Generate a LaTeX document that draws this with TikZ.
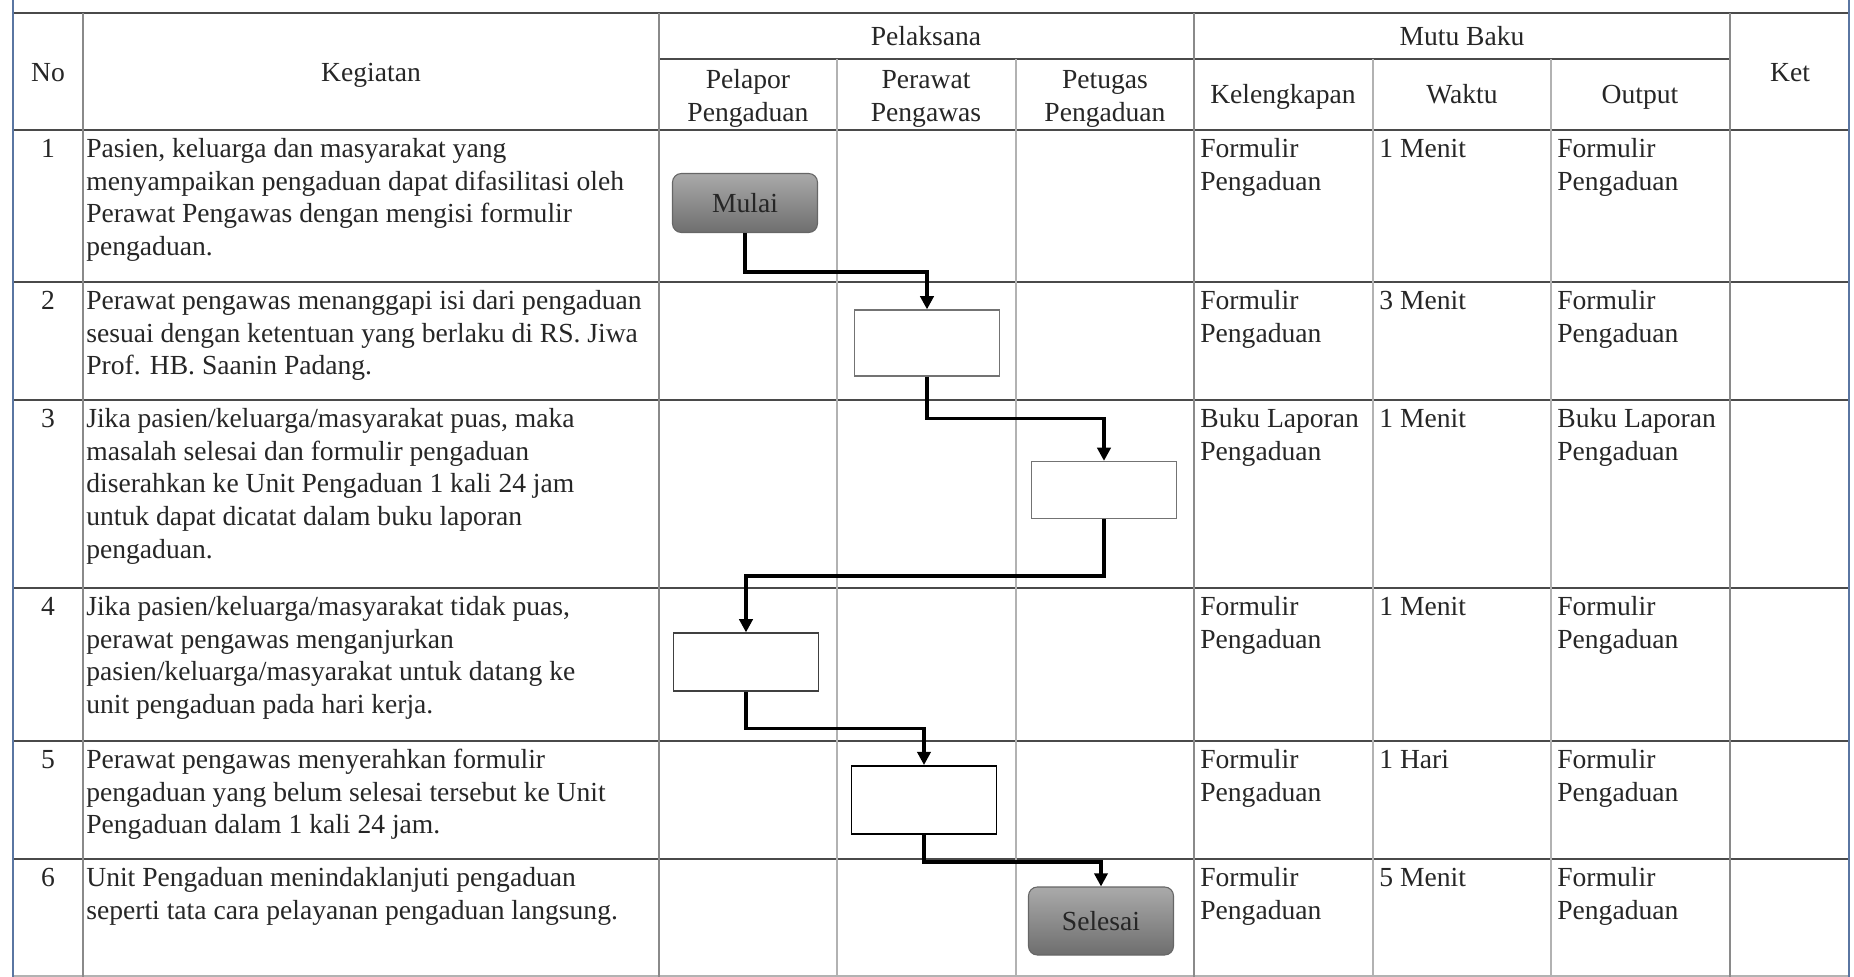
\documentclass[tikz,border=0pt]{standalone}
\usepackage{fontspec}
\setmainfont{Liberation Serif}
\usetikzlibrary{arrows.meta}
\definecolor{linegray}{HTML}{4A4A4A}
\definecolor{colgray}{HTML}{8A8A8A}
\definecolor{lightcol}{HTML}{B2B2B2}
\definecolor{frameblue}{HTML}{5A76A2}
\definecolor{textgray}{HTML}{262626}
\definecolor{termtop}{HTML}{AAAAAA}
\definecolor{termbot}{HTML}{6E6E6E}
\newcommand{\tabfont}{\fontsize{15.7}{18.6}\selectfont}
\tikzset{
    cell/.style = {anchor=north west, yshift=13.02pt, align=left, inner sep=0pt, text=textgray, font=\tabfont, execute at begin node=\strut},
    head/.style = {anchor=north, yshift=13.02pt, align=center, inner sep=0pt, text=textgray, font=\tabfont, execute at begin node=\strut},
    procbox/.style = {draw=black!75, line width=0.7pt, fill=white, minimum width=2.9cm, inner sep=0pt},
    termbox/.style = {draw=black!60, line width=0.6pt, rounded corners=5pt, top color=termtop, bottom color=termbot, minimum width=2.9cm, inner sep=0pt, text=textgray, font=\tabfont},
    flow/.style = {line width=1.9pt, -{Triangle[length=7.5pt,width=7.5pt]}}
}
\begin{document}
\begin{tikzpicture}[x=0.02cm, y=-0.02cm]
    \useasboundingbox (0,0) rectangle (1854,977);
    % Draw table rules
    \draw [linegray, line width=0.8pt] (13,13) -- (1849,13);
    \draw [linegray, line width=0.8pt] (659,59) -- (1730,59);
    \draw [linegray, line width=0.8pt] (13,130) -- (1849,130);
    \draw [linegray, line width=0.8pt] (13,282) -- (1849,282);
    \draw [linegray, line width=0.8pt] (13,400) -- (1849,400);
    \draw [linegray, line width=0.8pt] (13,588) -- (1849,588);
    \draw [linegray, line width=0.8pt] (13,741) -- (1849,741);
    \draw [linegray, line width=0.8pt] (13,859) -- (1849,859);
    \draw [lightcol, line width=0.6pt] (13,976) -- (1849,976);

    \draw [colgray, line width=0.7pt] (83,13) -- (83,977);
    \draw [colgray, line width=0.7pt] (659,13) -- (659,977);
    \draw [colgray, line width=0.7pt] (1194,13) -- (1194,977);
    \draw [colgray, line width=0.7pt] (1730,13) -- (1730,977);
    \draw [lightcol, line width=0.7pt] (837,59) -- (837,977);
    \draw [lightcol, line width=0.7pt] (1016,59) -- (1016,977);
    \draw [lightcol, line width=0.7pt] (1373,59) -- (1373,977);
    \draw [lightcol, line width=0.7pt] (1551,59) -- (1551,977);

    % Window frame
    \draw [frameblue, line width=1.6pt] (13,0) -- (13,977);
    \draw [frameblue, line width=1.6pt] (1849,0) -- (1849,977);

    % Header
    \node [head] (hno) at (48,81) {No};
    \node [head] (hkeg) at (371,81) {Kegiatan};
    \node [head] (hpel) at (926,45) {Pelaksana};
    \node [head] (hmutu) at (1462,45) {Mutu Baku};
    \node [head] (hket) at (1790,81) {Ket};
    \node [head] (hpelapor) at (748,88) {\strut Pelapor\\Pengaduan};
    \node [head] (hperawat) at (926,88) {\strut Perawat\\Pengawas};
    \node [head] (hpetugas) at (1105,88) {\strut Petugas\\Pengaduan};
    \node [head] (hlengkap) at (1283,103) {Kelengkapan};
    \node [head] (hwaktu) at (1462,103) {Waktu};
    \node [head] (houtput) at (1640,103) {Output};

    % Kegiatan
    \node [head] (no1) at (48,157) {1};
    \node [cell] (keg1) at (86,157) {\strut Pasien, keluarga dan masyarakat yang\\menyampaikan pengaduan dapat difasilitasi oleh\\Perawat Pengawas dengan mengisi formulir\\pengaduan.};
    \node [head] (no2) at (48,309) {2};
    \node [cell] (keg2) at (86,309) {\strut Perawat pengawas menanggapi isi dari pengaduan\\sesuai dengan ketentuan yang berlaku di RS. Jiwa\\Prof. HB. Saanin Padang.};
    \node [head] (no3) at (48,427) {3};
    \node [cell] (keg3) at (86,427) {\strut Jika pasien/keluarga/masyarakat puas, maka\\masalah selesai dan formulir pengaduan\\diserahkan ke Unit Pengaduan 1 kali 24 jam\\untuk dapat dicatat dalam buku laporan\\pengaduan.};
    \node [head] (no4) at (48,615) {4};
    \node [cell] (keg4) at (86,615) {\strut Jika pasien/keluarga/masyarakat tidak puas,\\perawat pengawas menganjurkan\\pasien/keluarga/masyarakat untuk datang ke\\unit pengaduan pada hari kerja.};
    \node [head] (no5) at (48,768) {5};
    \node [cell] (keg5) at (86,768) {\strut Perawat pengawas menyerahkan formulir\\pengaduan yang belum selesai tersebut ke Unit\\Pengaduan dalam 1 kali 24 jam.};
    \node [head] (no6) at (48,886) {6};
    \node [cell] (keg6) at (86,886) {\strut Unit Pengaduan menindaklanjuti pengaduan\\seperti tata cara pelayanan pengaduan langsung.};

    % Mutu baku
    \node [cell] (leng1) at (1200,157) {\strut Formulir\\Pengaduan};
    \node [cell] (wkt1) at (1379,157) {1 Menit};
    \node [cell] (out1) at (1557,157) {\strut Formulir\\Pengaduan};
    \node [cell] (leng2) at (1200,309) {\strut Formulir\\Pengaduan};
    \node [cell] (wkt2) at (1379,309) {3 Menit};
    \node [cell] (out2) at (1557,309) {\strut Formulir\\Pengaduan};
    \node [cell] (leng3) at (1200,427) {\strut Buku Laporan\\Pengaduan};
    \node [cell] (wkt3) at (1379,427) {1 Menit};
    \node [cell] (out3) at (1557,427) {\strut Buku Laporan\\Pengaduan};
    \node [cell] (leng4) at (1200,615) {\strut Formulir\\Pengaduan};
    \node [cell] (wkt4) at (1379,615) {1 Menit};
    \node [cell] (out4) at (1557,615) {\strut Formulir\\Pengaduan};
    \node [cell] (leng5) at (1200,768) {\strut Formulir\\Pengaduan};
    \node [cell] (wkt5) at (1379,768) {1 Hari};
    \node [cell] (out5) at (1557,768) {\strut Formulir\\Pengaduan};
    \node [cell] (leng6) at (1200,886) {\strut Formulir\\Pengaduan};
    \node [cell] (wkt6) at (1379,886) {5 Menit};
    \node [cell] (out6) at (1557,886) {\strut Formulir\\Pengaduan};

    % Flow boxes
    \node [termbox, minimum height=1.18cm] (mulai) at (745,203) {Mulai};
    \node [procbox, draw=black!55, minimum height=1.32cm] (tanggap) at (927,343) {};
    \node [procbox, draw=black!55, minimum height=1.14cm] (serah) at (1104,490) {};
    \node [procbox, minimum height=1.16cm] (anjur) at (746,662) {};
    \node [procbox, draw=black, line width=1.1pt, minimum height=1.36cm] (unit) at (924,800) {};
    \node [termbox, minimum height=1.36cm] (selesai) at (1101,921) {Selesai};

    % Draw connectors
    \draw [flow] (mulai.south) -- ++(0,39) -| (tanggap.north);
    \draw [flow] (tanggap.south) -- ++(0,42) -| (serah.north);
    \draw [flow] (serah.south) -- ++(0,57) -| (anjur.north);
    \draw [flow] (anjur.south) -- ++(0,37) -| (unit.north);
    \draw [flow] (unit.south) -- ++(0,27) -| (selesai.north);
\end{tikzpicture}
\end{document}
